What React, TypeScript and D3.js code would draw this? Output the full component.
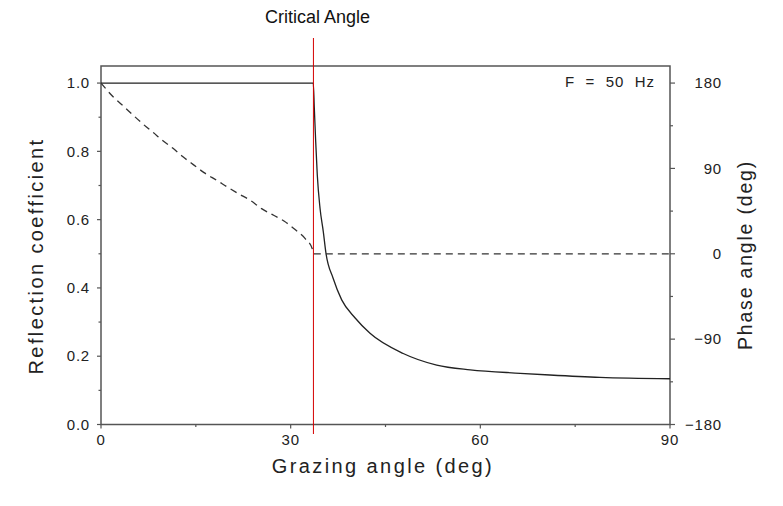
import React from "react";
import * as d3 from "d3";

const criticalAngle = 33.6;
const freqLabel = "F  =  50  Hz";

// Reflection coefficient (solid)
const reflAngles = [0, 33.58, 33.74, 33.96, 34.21, 34.64, 35.16, 35.59, 36.7, 38.07, 40.2, 42.55, 47.8, 53.1, 58.4, 66.3, 71.0, 78.9, 90];
const reflValues = [1.0, 1.0, 0.927, 0.828, 0.731, 0.634, 0.565, 0.501, 0.429, 0.365, 0.312, 0.267, 0.208, 0.174, 0.16, 0.15, 0.145, 0.138, 0.134];

// Phase angle (dashed)
const phaseAngles = [0, 1.95, 3.53, 5.11, 6.69, 8.27, 9.85, 11.44, 13.02, 14.6, 16.3, 18.3, 19.98, 21.7, 23.6, 25.4, 27.3, 29.0, 30.7, 32.3, 33.4, 33.6, 90];
const phaseValues = [180, 165.3, 155.8, 146.0, 136.5, 127.8, 118.9, 110.9, 102.0, 94.0, 85.6, 77.5, 70.4, 63.5, 56.4, 47.6, 40.6, 34.3, 25.5, 16.0, 5.5, 0, 0];

const xTicks = [0, 30, 60, 90];
const xMinor = [15, 45, 75];
const yTicks = [0, 0.2, 0.4, 0.6, 0.8, 1.0];
const yMinor = [0.1, 0.3, 0.5, 0.7, 0.9];
const pTicks = [-180, -90, 0, 90, 180];
const pMinor = [-135, -45, 45, 135];

export default function App() {
  const W = 783, H = 506;
  const L = 101, R = 670, T = 66, B = 424.5;
  const x = d3.scaleLinear().domain([0, 90]).range([L, R]);
  const y = d3.scaleLinear().domain([0, 1.05]).range([B, T]);
  const yp = d3.scaleLinear().domain([-180, 180]).range([y(0), y(1)]);

  const reflLine = d3.line<number>().x((d, i) => x(reflAngles[i])).y((d) => y(d)).curve(d3.curveMonotoneX);
  const phaseLine = d3.line<number>().x((d, i) => x(phaseAngles[i])).y((d) => yp(d)).curve(d3.curveMonotoneX);

  const axisColor = "#555";
  const font = "'Liberation Sans', Arial, sans-serif";
  const cx = x(criticalAngle);
  const tickFont = 15;
  const tickSp = 0.8;

  return (
    <svg width={W} height={H} style={{ position: "absolute", left: 0, top: 0, background: "#fff" }} fontFamily={font}>
      <rect x={0} y={0} width={W} height={H} fill="#fff" />
      {/* frame */}
      <rect x={L} y={T} width={R - L} height={B - T} fill="none" stroke={axisColor} strokeWidth={1.5} />
      {/* left ticks */}
      {yTicks.map((t) => (
        <g key={"yt" + t}>
          <line x1={L - 4} x2={L} y1={y(t)} y2={y(t)} stroke={axisColor} strokeWidth={1.2} />
          <text x={90} y={y(t)} dy="0.35em" textAnchor="end" fontSize={tickFont} letterSpacing={tickSp} fill="#222">{t.toFixed(1)}</text>
        </g>
      ))}
      {yMinor.map((t) => (
        <line key={"ym" + t} x1={L - 2.5} x2={L} y1={y(t)} y2={y(t)} stroke={axisColor} strokeWidth={1.2} />
      ))}
      {/* right ticks */}
      {pTicks.map((t) => (
        <g key={"pt" + t}>
          <line x1={R} x2={R + 5} y1={yp(t)} y2={yp(t)} stroke={axisColor} strokeWidth={1.2} />
          <text x={722} y={yp(t)} dy="0.35em" textAnchor="end" fontSize={tickFont} letterSpacing={tickSp} fill="#222">{t < 0 ? "\u2212" + Math.abs(t) : String(t)}</text>
        </g>
      ))}
      {pMinor.map((t) => (
        <line key={"pm" + t} x1={R} x2={R + 3} y1={yp(t)} y2={yp(t)} stroke={axisColor} strokeWidth={1.2} />
      ))}
      {/* bottom ticks */}
      {xTicks.map((t) => (
        <g key={"xt" + t}>
          <line x1={x(t)} x2={x(t)} y1={B} y2={B + 4} stroke={axisColor} strokeWidth={1.2} />
          <text x={x(t)} y={440} dy="0.35em" textAnchor="middle" fontSize={tickFont} letterSpacing={tickSp} fill="#222">{t}</text>
        </g>
      ))}
      {xMinor.map((t) => (
        <line key={"xm" + t} x1={x(t)} x2={x(t)} y1={B} y2={B + 2.5} stroke={axisColor} strokeWidth={1.2} />
      ))}
      {/* curves */}
      <path d={reflLine(reflValues) || ""} fill="none" stroke="#222" strokeWidth={1.3} />
      <path d={phaseLine(phaseValues) || ""} fill="none" stroke="#333" strokeWidth={1.3} strokeDasharray="7,5" />
      {/* critical angle line */}
      <line x1={cx} x2={cx} y1={38} y2={434} stroke="#d40000" strokeWidth={1} />
      <text x={cx + 4} y={17} dy="0.35em" textAnchor="middle" fontSize={18} fill="#111">Critical Angle</text>
      {/* annotations */}
      <text x={655} y={82} dy="0.35em" textAnchor="end" fontSize={15} letterSpacing={1} fill="#222" style={{ whiteSpace: "pre" }}>{freqLabel}</text>
      {/* axis titles */}
      <text x={383} y={466} dy="0.35em" textAnchor="middle" fontSize={20} letterSpacing={2.4} fill="#222">Grazing angle (deg)</text>
      <text transform={`translate(36,256) rotate(-90)`} dy="0.35em" textAnchor="middle" fontSize={20} letterSpacing={2.4} fill="#222">Reflection coefficient</text>
      <text transform={`translate(745,255) rotate(-90)`} dy="0.35em" textAnchor="middle" fontSize={19.5} letterSpacing={1.8} fill="#222">Phase angle (deg)</text>
    </svg>
  );
}
